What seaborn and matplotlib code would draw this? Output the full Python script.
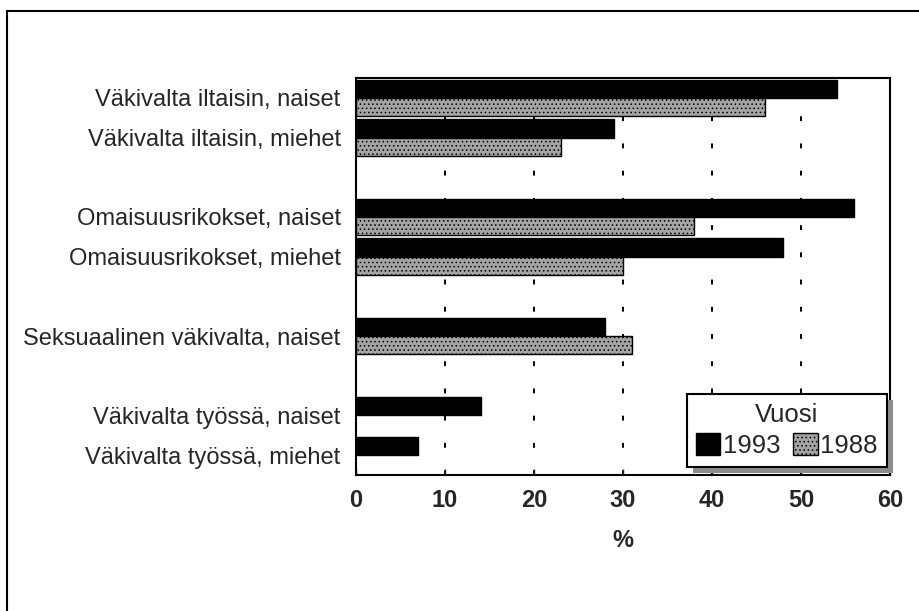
import numpy as np
import pandas as pd
import matplotlib
matplotlib.use("Agg")
import matplotlib.pyplot as plt
import matplotlib.patheffects as pe
from matplotlib.patches import Rectangle
import seaborn as sns

# rikosryhmät (kategoriat) ja ryhmäjako, tyhjä rivi ryhmien väliin
categories = [
    "Väkivalta iltaisin, naiset",
    "Väkivalta iltaisin, miehet",
    "Omaisuusrikokset, naiset",
    "Omaisuusrikokset, miehet",
    "Seksuaalinen väkivalta, naiset",
    "Väkivalta työssä, naiset",
    "Väkivalta työssä, miehet",
]
groups = [0, 0, 1, 1, 2, 3, 3]
years = ["1993", "1988"]
values_1993 = [54, 29, 56, 48, 28, 14, 7]
values_1988 = [46, 23, 38, 30, 31, np.nan, np.nan]
x_ticks = [0, 10, 20, 30, 40, 50, 60]

df = pd.DataFrame({
    "kategoria": categories * 2,
    "vuosi": [years[0]] * len(categories) + [years[1]] * len(categories),
    "pct": values_1993 + values_1988,
})

# järjestys, jossa ryhmien väliin tulee tyhjä paikka
order = []
spacer = 0
for i, (cat, g) in enumerate(zip(categories, groups)):
    if i > 0 and g != groups[i - 1]:
        spacer += 1
        order.append(" " * spacer)
    order.append(cat)

sns.set_style("white")
plt.rcParams["font.family"] = ["Liberation Sans", "DejaVu Sans"]
plt.rcParams["hatch.linewidth"] = 0.6

fig = plt.figure(figsize=(9.19, 6.11), dpi=100)
ax = fig.add_axes([356 / 919, 1 - 475 / 611, 534 / 919, 397 / 611])

sns.barplot(
    data=df, x="pct", y="kategoria", hue="vuosi", order=order,
    hue_order=years, orient="h", width=0.92, ax=ax,
    palette={"1993": "black", "1988": "#9e9e9e"},
    edgecolor="black", linewidth=1.0, saturation=1, legend=True,
)

for bar in ax.containers[1]:
    bar.set_hatch("....")
    bar.set_facecolor("#a4a4a4")

ax.set_xlim(0, 60)
ax.set_ylim(9.5, -0.5)
ax.set_xticks(x_ticks)
ax.set_xticklabels([str(t) for t in x_ticks], fontsize=17, fontweight="bold")
ax.set_yticks(range(len(order)))
ax.set_yticklabels(order, fontsize=17)
ax.tick_params(axis="y", length=0, pad=11)
ax.tick_params(axis="x", direction="in", length=4, width=1, pad=10, top=False, bottom=True)
ax.set_xlabel("%", fontsize=17, fontweight="bold", labelpad=12)
ax.set_ylabel("")

ax.set_axisbelow(True)
ax.xaxis.grid(True, color="black", linewidth=1.4, linestyle=(0, (2.5, 11.5)))
ax.yaxis.grid(False)
for s in ax.spines.values():
    s.set_visible(True)
    s.set_color("black")
    s.set_linewidth(1.5)

leg = ax.legend(
    title="Vuosi", ncol=2, loc="lower right", bbox_to_anchor=(0.994, 0.02),
    borderaxespad=0, frameon=True, fancybox=False, shadow=False,
    fontsize=18.5, title_fontsize=18.5, handlelength=0.95, handleheight=0.95,
    handletextpad=0.1, columnspacing=0.5, borderpad=0.35, labelspacing=0.25,
)
frame = leg.get_frame()
frame.set_edgecolor("black")
frame.set_linewidth(1.5)
frame.set_alpha(1)
# legendan varjo oikealle alas
frame.set_path_effects([
    pe.SimplePatchShadow(offset=(4.5, -4.5), shadow_rgbFace="#8c8c8c", alpha=1),
    pe.Normal(),
])
leg.legend_handles[1].set_hatch("....")
leg.legend_handles[1].set_facecolor("#a4a4a4")

# kuvan ulkoreunus
fig.add_artist(Rectangle((7 / 919, -0.1), 1.2, (611 - 11) / 611 + 0.1,
                         transform=fig.transFigure, fill=False,
                         edgecolor="black", linewidth=1.5, clip_on=False))

fig.savefig("out.png", dpi=100)
